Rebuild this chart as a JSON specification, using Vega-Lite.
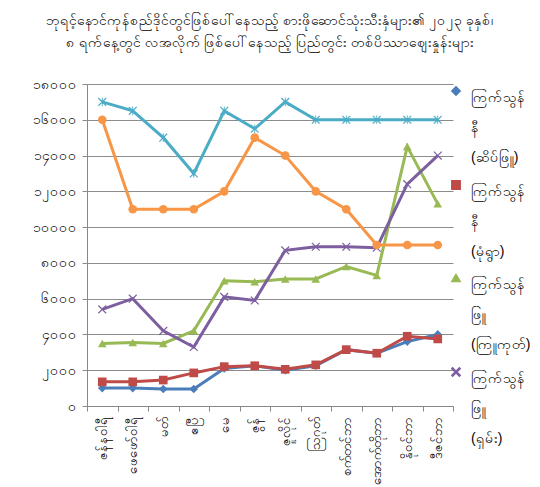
{
  "$schema": "https://vega.github.io/schema/vega-lite/v6.json",
  "width": 366,
  "height": 322,
  "autosize": "none",
  "padding": {"left": 87, "top": 84, "right": 87, "bottom": 81},
  "background": "white",
  "title": {
    "text": ["ဘုရင့်နောင်ကုန်စည်ဒိုင်တွင်ဖြစ်ပေါ်နေသည့် စားဖိုဆောင်သုံးသီးနှံများ၏ ၂၀၂၃ ခုနှစ်၊", "၈ ရက်နေ့တွင် လအလိုက် ဖြစ်ပေါ်နေသည့် ပြည်တွင်း တစ်ပိဿာဈေးနှုန်းများ"],
    "anchor": "middle",
    "frame": "group",
    "fontSize": 14,
    "fontWeight": "normal",
    "color": "#000000",
    "lineHeight": 22,
    "offset": 27
  },
  "data": {
    "values": [
      {"month": "ဇန်နဝါရီ", "series": "ကြက်သွန်နီ (ဆိပ်ဖြူ)", "price": 1000},
      {"month": "ဖေဖော်ဝါရီ", "series": "ကြက်သွန်နီ (ဆိပ်ဖြူ)", "price": 1000},
      {"month": "မတ်", "series": "ကြက်သွန်နီ (ဆိပ်ဖြူ)", "price": 950},
      {"month": "ဧပြီ", "series": "ကြက်သွန်နီ (ဆိပ်ဖြူ)", "price": 950},
      {"month": "မေ", "series": "ကြက်သွန်နီ (ဆိပ်ဖြူ)", "price": 2100},
      {"month": "ဇွန်", "series": "ကြက်သွန်နီ (ဆိပ်ဖြူ)", "price": 2250},
      {"month": "ဇူလိုင်", "series": "ကြက်သွန်နီ (ဆိပ်ဖြူ)", "price": 2000},
      {"month": "ဩဂုတ်", "series": "ကြက်သွန်နီ (ဆိပ်ဖြူ)", "price": 2250},
      {"month": "စက်တင်ဘာ", "series": "ကြက်သွန်နီ (ဆိပ်ဖြူ)", "price": 3150},
      {"month": "အောက်တိုဘာ", "series": "ကြက်သွန်နီ (ဆိပ်ဖြူ)", "price": 2950},
      {"month": "နိုဝင်ဘာ", "series": "ကြက်သွန်နီ (ဆိပ်ဖြူ)", "price": 3600},
      {"month": "ဒီဇင်ဘာ", "series": "ကြက်သွန်နီ (ဆိပ်ဖြူ)", "price": 4000},
      {"month": "ဇန်နဝါရီ", "series": "ကြက်သွန်နီ (မုံရွာ)", "price": 1350},
      {"month": "ဖေဖော်ဝါရီ", "series": "ကြက်သွန်နီ (မုံရွာ)", "price": 1350},
      {"month": "မတ်", "series": "ကြက်သွန်နီ (မုံရွာ)", "price": 1450},
      {"month": "ဧပြီ", "series": "ကြက်သွန်နီ (မုံရွာ)", "price": 1850},
      {"month": "မေ", "series": "ကြက်သွန်နီ (မုံရွာ)", "price": 2200},
      {"month": "ဇွန်", "series": "ကြက်သွန်နီ (မုံရွာ)", "price": 2250},
      {"month": "ဇူလိုင်", "series": "ကြက်သွန်နီ (မုံရွာ)", "price": 2050},
      {"month": "ဩဂုတ်", "series": "ကြက်သွန်နီ (မုံရွာ)", "price": 2300},
      {"month": "စက်တင်ဘာ", "series": "ကြက်သွန်နီ (မုံရွာ)", "price": 3150},
      {"month": "အောက်တိုဘာ", "series": "ကြက်သွန်နီ (မုံရွာ)", "price": 2950},
      {"month": "နိုဝင်ဘာ", "series": "ကြက်သွန်နီ (မုံရွာ)", "price": 3900},
      {"month": "ဒီဇင်ဘာ", "series": "ကြက်သွန်နီ (မုံရွာ)", "price": 3750},
      {"month": "ဇန်နဝါရီ", "series": "ကြက်သွန်ဖြူ (ကြူကုတ်)", "price": 3500},
      {"month": "ဖေဖော်ဝါရီ", "series": "ကြက်သွန်ဖြူ (ကြူကုတ်)", "price": 3550},
      {"month": "မတ်", "series": "ကြက်သွန်ဖြူ (ကြူကုတ်)", "price": 3500},
      {"month": "ဧပြီ", "series": "ကြက်သွန်ဖြူ (ကြူကုတ်)", "price": 4200},
      {"month": "မေ", "series": "ကြက်သွန်ဖြူ (ကြူကုတ်)", "price": 7000},
      {"month": "ဇွန်", "series": "ကြက်သွန်ဖြူ (ကြူကုတ်)", "price": 6950},
      {"month": "ဇူလိုင်", "series": "ကြက်သွန်ဖြူ (ကြူကုတ်)", "price": 7100},
      {"month": "ဩဂုတ်", "series": "ကြက်သွန်ဖြူ (ကြူကုတ်)", "price": 7100},
      {"month": "စက်တင်ဘာ", "series": "ကြက်သွန်ဖြူ (ကြူကုတ်)", "price": 7800},
      {"month": "အောက်တိုဘာ", "series": "ကြက်သွန်ဖြူ (ကြူကုတ်)", "price": 7300},
      {"month": "နိုဝင်ဘာ", "series": "ကြက်သွန်ဖြူ (ကြူကုတ်)", "price": 14500},
      {"month": "ဒီဇင်ဘာ", "series": "ကြက်သွန်ဖြူ (ကြူကုတ်)", "price": 11300},
      {"month": "ဇန်နဝါရီ", "series": "ကြက်သွန်ဖြူ (ရှမ်း)", "price": 5400},
      {"month": "ဖေဖော်ဝါရီ", "series": "ကြက်သွန်ဖြူ (ရှမ်း)", "price": 6000},
      {"month": "မတ်", "series": "ကြက်သွန်ဖြူ (ရှမ်း)", "price": 4200},
      {"month": "ဧပြီ", "series": "ကြက်သွန်ဖြူ (ရှမ်း)", "price": 3300},
      {"month": "မေ", "series": "ကြက်သွန်ဖြူ (ရှမ်း)", "price": 6100},
      {"month": "ဇွန်", "series": "ကြက်သွန်ဖြူ (ရှမ်း)", "price": 5900},
      {"month": "ဇူလိုင်", "series": "ကြက်သွန်ဖြူ (ရှမ်း)", "price": 8700},
      {"month": "ဩဂုတ်", "series": "ကြက်သွန်ဖြူ (ရှမ်း)", "price": 8900},
      {"month": "စက်တင်ဘာ", "series": "ကြက်သွန်ဖြူ (ရှမ်း)", "price": 8900},
      {"month": "အောက်တိုဘာ", "series": "ကြက်သွန်ဖြူ (ရှမ်း)", "price": 8850},
      {"month": "နိုဝင်ဘာ", "series": "ကြက်သွန်ဖြူ (ရှမ်း)", "price": 12400},
      {"month": "ဒီဇင်ဘာ", "series": "ကြက်သွန်ဖြူ (ရှမ်း)", "price": 14000},
      {"month": "ဇန်နဝါရီ", "series": "စီးရီး ၅", "price": 17000},
      {"month": "ဖေဖော်ဝါရီ", "series": "စီးရီး ၅", "price": 16500},
      {"month": "မတ်", "series": "စီးရီး ၅", "price": 15000},
      {"month": "ဧပြီ", "series": "စီးရီး ၅", "price": 13000},
      {"month": "မေ", "series": "စီးရီး ၅", "price": 16500},
      {"month": "ဇွန်", "series": "စီးရီး ၅", "price": 15500},
      {"month": "ဇူလိုင်", "series": "စီးရီး ၅", "price": 17000},
      {"month": "ဩဂုတ်", "series": "စီးရီး ၅", "price": 16000},
      {"month": "စက်တင်ဘာ", "series": "စီးရီး ၅", "price": 16000},
      {"month": "အောက်တိုဘာ", "series": "စီးရီး ၅", "price": 16000},
      {"month": "နိုဝင်ဘာ", "series": "စီးရီး ၅", "price": 16000},
      {"month": "ဒီဇင်ဘာ", "series": "စီးရီး ၅", "price": 16000},
      {"month": "ဇန်နဝါရီ", "series": "စီးရီး ၆", "price": 16000},
      {"month": "ဖေဖော်ဝါရီ", "series": "စီးရီး ၆", "price": 11000},
      {"month": "မတ်", "series": "စီးရီး ၆", "price": 11000},
      {"month": "ဧပြီ", "series": "စီးရီး ၆", "price": 11000},
      {"month": "မေ", "series": "စီးရီး ၆", "price": 12000},
      {"month": "ဇွန်", "series": "စီးရီး ၆", "price": 15000},
      {"month": "ဇူလိုင်", "series": "စီးရီး ၆", "price": 14000},
      {"month": "ဩဂုတ်", "series": "စီးရီး ၆", "price": 12000},
      {"month": "စက်တင်ဘာ", "series": "စီးရီး ၆", "price": 11000},
      {"month": "အောက်တိုဘာ", "series": "စီးရီး ၆", "price": 9000},
      {"month": "နိုဝင်ဘာ", "series": "စီးရီး ၆", "price": 9000},
      {"month": "ဒီဇင်ဘာ", "series": "စီးရီး ၆", "price": 9000}
    ]
  },
  "encoding": {
    "x": {
      "field": "month",
      "type": "nominal",
      "sort": null,
      "scale": {"type": "band", "paddingInner": 0, "paddingOuter": 0},
      "axis": {
        "title": null,
        "labelAngle": -90,
        "labelFontSize": 13,
        "labelLimit": 75,
        "labelPadding": 5,
        "tickBand": "extent",
        "tickSize": 5,
        "domainColor": "#888888",
        "tickColor": "#888888",
        "labelColor": "#000000",
        "grid": false
      }
    },
    "y": {
      "field": "price",
      "type": "quantitative",
      "scale": {"domain": [0, 18000], "nice": false},
      "axis": {
        "title": null,
        "values": [0, 2000, 4000, 6000, 8000, 10000, 12000, 14000, 16000, 18000],
        "labelExpr": "replace(replace(replace(replace(replace(replace(replace(replace(replace(replace(format(datum.value,'d'),regexp('0','g'),'၀'),regexp('1','g'),'၁'),regexp('2','g'),'၂'),regexp('3','g'),'၃'),regexp('4','g'),'၄'),regexp('5','g'),'၅'),regexp('6','g'),'၆'),regexp('7','g'),'၇'),regexp('8','g'),'၈'),regexp('9','g'),'၉')",
        "labelFontSize": 14,
        "labelColor": "#000000",
        "labelPadding": 6,
        "tickSize": 5,
        "domainColor": "#888888",
        "tickColor": "#888888",
        "gridColor": "#8c8c8c",
        "gridWidth": 1
      }
    },
    "color": {
      "field": "series",
      "type": "nominal",
      "sort": null,
      "scale": {
        "domain": ["ကြက်သွန်နီ (ဆိပ်ဖြူ)", "ကြက်သွန်နီ (မုံရွာ)", "ကြက်သွန်ဖြူ (ကြူကုတ်)", "ကြက်သွန်ဖြူ (ရှမ်း)", "စီးရီး ၅", "စီးရီး ၆"],
        "range": ["#4a7ebb", "#be4b48", "#98b954", "#7d5fa0", "#4bacc6", "#f79646"]
      },
      "legend": {
        "title": null,
        "values": ["ကြက်သွန်နီ (ဆိပ်ဖြူ)", "ကြက်သွန်နီ (မုံရွာ)", "ကြက်သွန်ဖြူ (ကြူကုတ်)", "ကြက်သွန်ဖြူ (ရှမ်း)"],
        "orient": "right",
        "offset": -4,
        "labelExpr": "split(replace(datum.label, 'ကြက်သွန်', 'ကြက်သွန် '), ' ')",
        "labelFontSize": 14,
        "labelColor": "#000000",
        "labelBaseline": "top",
        "labelOffset": 8,
        "labelLimit": 90,
        "symbolSize": 70,
        "rowPadding": 12
      }
    }
  },
  "layer": [
    {
      "mark": {"type": "line", "strokeWidth": 3},
      "encoding": {"detail": {"field": "series"}}
    },
    {
      "mark": {"type": "point", "filled": true, "opacity": 1, "size": 75},
      "encoding": {
        "shape": {
          "field": "series",
          "type": "nominal",
          "sort": null,
          "scale": {
            "domain": ["ကြက်သွန်နီ (ဆိပ်ဖြူ)", "ကြက်သွန်နီ (မုံရွာ)", "ကြက်သွန်ဖြူ (ကြူကုတ်)", "ကြက်သွန်ဖြူ (ရှမ်း)", "စီးရီး ၅", "စီးရီး ၆"],
            "range": ["diamond", "square", "triangle-up", "M-1,-0.8L-0.8,-1L0,-0.2L0.8,-1L1,-0.8L0.2,0L1,0.8L0.8,1L0,0.2L-0.8,1L-1,0.8L-0.2,0Z", "M-1,-0.8L-0.8,-1L0,-0.2L0.8,-1L1,-0.8L0.2,0L1,0.8L0.8,1L0,0.2L-0.8,1L-1,0.8L-0.2,0ZM-0.1,-1L0.1,-1L0.1,1L-0.1,1Z", "circle"]
          },
          "legend": {
            "title": null,
            "values": ["ကြက်သွန်နီ (ဆိပ်ဖြူ)", "ကြက်သွန်နီ (မုံရွာ)", "ကြက်သွန်ဖြူ (ကြူကုတ်)", "ကြက်သွန်ဖြူ (ရှမ်း)"],
            "orient": "right",
            "offset": -4,
            "labelExpr": "split(replace(datum.label, 'ကြက်သွန်', 'ကြက်သွန် '), ' ')",
            "labelFontSize": 14,
            "labelColor": "#000000",
            "labelBaseline": "top",
            "labelOffset": 8,
            "labelLimit": 90,
            "symbolSize": 70,
            "rowPadding": 12
          }
        }
      }
    }
  ],
  "config": {
    "view": {"stroke": null},
    "style": {"guide-label": {"lineHeight": 30}}
  }
}
